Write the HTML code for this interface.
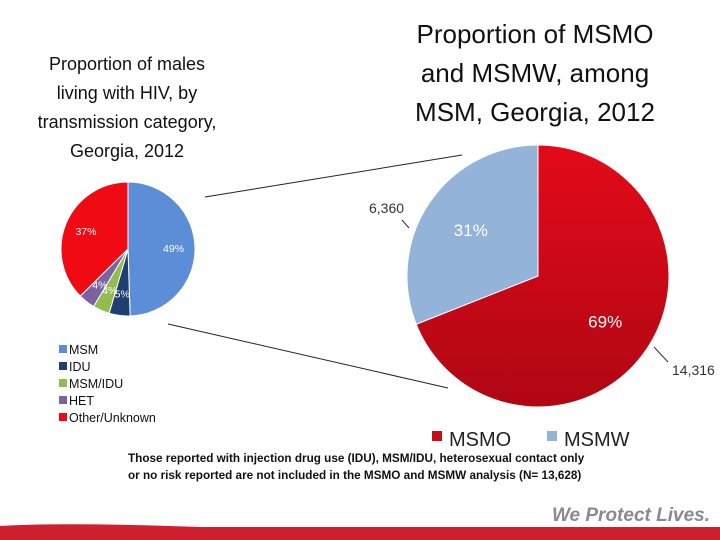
<!DOCTYPE html>
<html><head><meta charset="utf-8"><style>
body{margin:0;width:720px;height:540px;overflow:hidden;background:#fff;font-family:"Liberation Sans",sans-serif;position:relative}
.t{position:absolute;text-align:center;color:#111;white-space:nowrap}
</style></head><body>
<div class="t" style="left:0;top:50px;width:254px;font-size:18px;line-height:29px">Proportion of males<br>living with HIV, by<br>transmission category,<br>Georgia, 2012</div>
<div class="t" style="left:360px;top:15px;width:350px;font-size:26px;line-height:39px">Proportion of MSMO<br>and MSMW, among<br>MSM, Georgia, 2012</div>
<svg id="s" width="720" height="540" style="position:absolute;left:0;top:0">
<defs><linearGradient id="rg" x1="0" y1="0" x2="0" y2="1"><stop offset="0" stop-color="#e30a1a"/><stop offset="1" stop-color="#b00713"/></linearGradient></defs>
<line x1="205" y1="197" x2="462" y2="155" stroke="#222" stroke-width="1"/>
<line x1="168" y1="324" x2="448" y2="388" stroke="#222" stroke-width="1"/>
<path d="M0 526 Q60 522 200 527 L720 527 L720 540 L0 540 Z" fill="#cf2030"/>
<text x="710" y="521" text-anchor="end" font-size="19" font-style="italic" font-weight="bold" fill="#8a8a8a">We Protect Lives.</text>
</svg>
<div class="t" style="left:128px;top:451px;text-align:left;font-size:11.5px;font-weight:bold;line-height:17px;transform:scaleX(1.02);transform-origin:0 0">Those reported with injection drug use (IDU), MSM/IDU, heterosexual contact only<br>or no risk reported are not included in the MSMO and MSMW analysis (N= 13,628)</div>
<script>
const cats1=["MSM","IDU","MSM/IDU","HET","Other/Unknown"];
const vals1=[49,5,4,4,37];
const labels1=["49%","5%","4%","4%","37%"];
const cats2=["MSMO","MSMW"];
const vals2=[69,31];
const labels2=["69%","31%"];
const counts2=["14,316","6,360"];
const col1=["#5b8ed6","#1f3f6e","#93bb4f","#7d62a0","#f00b14"];
const col2=["url(#rg)","#94b3d8"];
const s=document.getElementById('s');
const NS="http://www.w3.org/2000/svg";
function el(t,a){const e=document.createElementNS(NS,t);for(const k in a)e.setAttribute(k,a[k]);s.appendChild(e);return e;}
function pie(cx,cy,r,vals,cols,labels,lr,fs,name,cats){
 const tot=vals.reduce((a,b)=>a+b,0);let a0=-Math.PI/2;
 vals.forEach((v,i)=>{const a1=a0+v/tot*2*Math.PI;
  const x0=cx+r*Math.cos(a0),y0=cy+r*Math.sin(a0),x1=cx+r*Math.cos(a1),y1=cy+r*Math.sin(a1);
  const p=el('path',{d:`M${cx} ${cy}L${x0} ${y0}A${r} ${r} 0 ${a1-a0>Math.PI?1:0} 1 ${x1} ${y1}Z`,fill:cols[i],stroke:'#fff','stroke-width':1});
  
  
  const m=(a0+a1)/2;
  const t=el('text',{x:cx+r*lr*Math.cos(m),y:cy+r*lr*Math.sin(m)+fs/3,'text-anchor':'middle','font-size':fs,fill:'#fff'});
  t.textContent=labels[i];
  
  
  a0=a1;});
}
pie(128,249,67,vals1,col1,labels1,0.68,10.5,'small-pie',cats1);
pie(538,276,131,vals2,col2,labels2,0.62,17,'big-pie',cats2);
const c1=el('text',{x:672,y:375,'font-size':14,fill:'#333'});c1.textContent=counts2[0];


el('line',{x1:654,y1:347,x2:668,y2:362,stroke:'#333'});
const c2=el('text',{x:369,y:213,'font-size':14,fill:'#333'});c2.textContent=counts2[1];


el('line',{x1:402,y1:220,x2:409,y2:228,stroke:'#333'});
cats1.forEach((c,i)=>{const y=342+i*17;
 const r=el('rect',{x:59,y:y+3,width:8,height:8,fill:col1[i]});
 
 
 const t=el('text',{x:69,y:y+12,'font-size':12.5,fill:'#111'});t.textContent=c;
 
 });
const lx=[432,547];
cats2.forEach((c,i)=>{
 const r=el('rect',{x:lx[i],y:431,width:10,height:10,fill:i?'#94b3d8':'#c80c18'});
 
 
 const t=el('text',{x:lx[i]+17,y:446,'font-size':20,fill:'#222'});t.textContent=c;
 
 });
</script>
</body></html>
